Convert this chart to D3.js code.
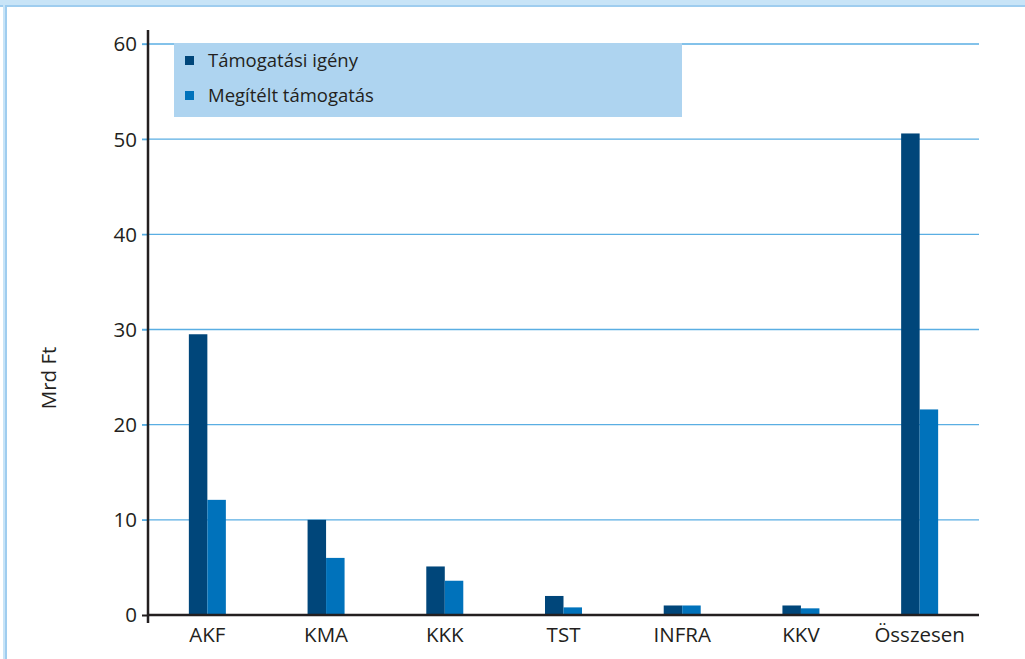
<!DOCTYPE html>
<html>
<head>
<meta charset="utf-8">
<script src="https://cdn.jsdelivr.net/npm/d3@7"></script>
<style>
  html, body { margin: 0; padding: 0; background: #fff; }
  svg { display: block; }
  text { font-family: "Open Sans", "Noto Sans", sans-serif; fill: #231f20; }
</style>
</head>
<body>
<svg id="chart" width="1025" height="659"></svg>
<script>
const categories = ["AKF", "KMA", "KKK", "TST", "INFRA", "KKV", "Összesen"];
const seriesNames = ["Támogatási igény", "Megítélt támogatás"];
const igeny = [29.5, 10.0, 5.1, 2.0, 1.0, 1.0, 50.6];
const megitelt = [12.1, 6.0, 3.6, 0.8, 1.0, 0.7, 21.6];
const yTicks = [0, 10, 20, 30, 40, 50, 60];
const colors = ["#00467a", "#0072bb"];

const svg = d3.select("#chart");

// frame
svg.append("rect").attr("x", 0).attr("y", 0).attr("width", 1025).attr("height", 6).attr("fill", "#c8e4f7");
svg.append("rect").attr("x", 0).attr("y", 5).attr("width", 1025).attr("height", 2).attr("fill", "#9fcdef");
svg.append("rect").attr("x", 3).attr("y", 5).attr("width", 2).attr("height", 654).attr("fill", "#c8e4f7");
svg.append("rect").attr("x", 5).attr("y", 5).attr("width", 2).attr("height", 654).attr("fill", "#9fcdef");

const x0 = 148, x1 = 979;
const y = d3.scaleLinear().domain([0, 60]).range([615, 44]);
const x = d3.scaleBand().domain(categories).range([x0, x1]).paddingInner(0).paddingOuter(0);
const barW = 18.5;

// gridlines
svg.append("g").selectAll("line").data(yTicks.filter(d => d > 0)).join("line")
  .attr("x1", x0 - 6).attr("x2", x1)
  .attr("y1", d => y(d)).attr("y2", d => y(d))
  .attr("stroke", "#5aaee3").attr("stroke-width", 1.3);

// legend box
const lg = svg.append("g");
lg.append("rect").attr("x", 174).attr("y", 43).attr("width", 508).attr("height", 74).attr("fill", "#aed4f0");
seriesNames.forEach((n, i) => {
  lg.append("rect").attr("x", 185).attr("y", 56 + i * 35).attr("width", 9).attr("height", 9).attr("fill", colors[i]);
  lg.append("text").attr("x", 208).attr("y", 67 + i * 35).attr("font-size", 18.5).text(n);
});

// bars
const data = categories.map((c, i) => ({ c, v: [igeny[i], megitelt[i]] }));
const g = svg.append("g");
data.forEach(d => {
  const cx = x(d.c) + x.bandwidth() / 2;
  d.v.forEach((v, j) => {
    g.append("rect")
      .attr("x", cx - barW + j * barW)
      .attr("y", y(v))
      .attr("width", barW)
      .attr("height", y(0) - y(v))
      .attr("fill", colors[j]);
  });
});

// y axis
const yAxis = d3.axisLeft(y).tickValues(yTicks).tickSize(6).tickPadding(5).tickFormat(d3.format("d"));
const ya = svg.append("g").attr("transform", `translate(${x0},0)`).call(yAxis);
ya.select(".domain").remove();
ya.selectAll(".tick line").attr("stroke", d => d === 0 ? "#231f20" : "#5aaee3").attr("stroke-width", d => d === 0 ? 2 : 1.3);
ya.selectAll(".tick text").attr("font-size", 20.5).attr("fill", "#231f20").attr("font-family", "'Open Sans', sans-serif").attr("dy", "0.34em");
svg.append("line").attr("x1", x0).attr("x2", x0).attr("y1", 30).attr("y2", 623)
  .attr("stroke", "#231f20").attr("stroke-width", 2.5);

// x axis
const xAxis = d3.axisBottom(x).tickSize(0).tickPadding(12);
const xa = svg.append("g").attr("transform", `translate(0,${y(0)})`).call(xAxis);
xa.select(".domain").remove();
xa.selectAll(".tick text").attr("font-size", 20.5).attr("fill", "#231f20").attr("font-family", "'Open Sans', sans-serif").attr("dy", "0.71em");
svg.append("line").attr("x1", x0).attr("x2", x1).attr("y1", y(0)).attr("y2", y(0))
  .attr("stroke", "#231f20").attr("stroke-width", 2.5);

// y label
svg.append("text").attr("transform", "translate(56,378) rotate(-90)")
  .attr("text-anchor", "middle").attr("font-size", 20.5).text("Mrd Ft");
</script>
</body>
</html>
